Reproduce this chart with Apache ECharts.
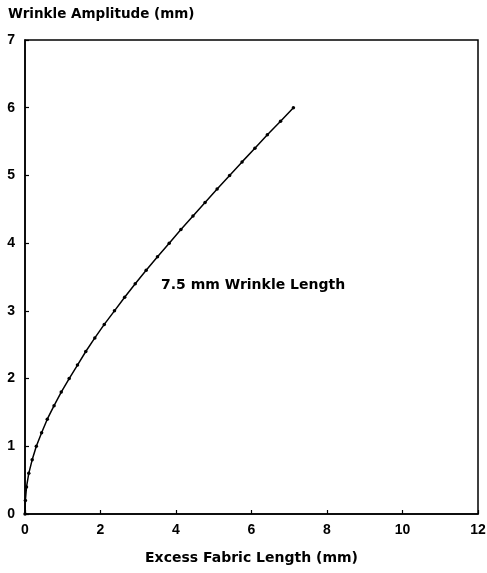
<!DOCTYPE html>
<html>
<head>
<meta charset="utf-8">
<script src="https://cdn.jsdelivr.net/npm/echarts@6/dist/echarts.min.js"></script>
<style>
html,body{margin:0;padding:0;background:#fff;}
#chart{width:487px;height:573px;}
</style>
</head>
<body>
<div id="chart"></div>
<script>
// Wrinkle amplitude (mm) values
var amplitude = [0, 0.2, 0.4, 0.6, 0.8, 1.0, 1.2, 1.4, 1.6, 1.8, 2.0, 2.2, 2.4, 2.6, 2.8, 3.0,
  3.2, 3.4, 3.6, 3.8, 4.0, 4.2, 4.4, 4.6, 4.8, 5.0, 5.2, 5.4, 5.6, 5.8, 6.0];
// Excess fabric length (mm)
var excessLength = [0, 0.01, 0.04, 0.10, 0.19, 0.30, 0.44, 0.59, 0.77, 0.96, 1.17, 1.39, 1.61, 1.85, 2.10, 2.37,
  2.64, 2.92, 3.21, 3.51, 3.82, 4.13, 4.45, 4.77, 5.09, 5.42, 5.75, 6.09, 6.42, 6.77, 7.11];
var xTicks = [0, 2, 4, 6, 8, 10, 12];
var yTicks = [0, 1, 2, 3, 4, 5, 6, 7];
var seriesLabel = '7.5 mm Wrinkle Length';
var xTitle = 'Excess Fabric Length (mm)';
var yTitle = 'Wrinkle Amplitude (mm)';

var data = excessLength.map(function (x, i) { return [x, amplitude[i]]; });
var font = 'DejaVu Sans';
var tickFont = 'Liberation Sans';
var chart = echarts.init(document.getElementById('chart'));
chart.setOption({
  animation: false,
  backgroundColor: '#fff',
  grid: { left: 25, right: 9, top: 40, bottom: 59, show: true, borderColor: '#000', borderWidth: 1.5,
    containLabel: false, outerBoundsMode: 'none' },
  xAxis: {
    type: 'value', min: xTicks[0], max: xTicks[xTicks.length - 1], interval: 2,
    axisLine: { show: true, lineStyle: { color: '#000', width: 1.5 } },
    axisTick: { show: true, inside: true, length: 4, lineStyle: { color: '#000', width: 1.2 } },
    axisLabel: { color: '#000', fontFamily: tickFont, fontWeight: 'bold', fontSize: 14, margin: 9 },
    splitLine: { show: false },
    name: xTitle, nameLocation: 'middle', nameGap: 37,
    nameTextStyle: { color: '#000', fontFamily: font, fontSize: 14, fontWeight: 'bold' }
  },
  yAxis: {
    type: 'value', min: yTicks[0], max: yTicks[yTicks.length - 1], interval: 1,
    axisLine: { show: true, lineStyle: { color: '#000', width: 1.5 } },
    axisTick: { show: true, inside: true, length: 4, lineStyle: { color: '#000', width: 1.2 } },
    axisLabel: { color: '#000', fontFamily: tickFont, fontWeight: 'bold', fontSize: 14, margin: 10 },
    splitLine: { show: false },
    name: yTitle, nameLocation: 'end', nameGap: 19,
    nameTextStyle: { color: '#000', fontFamily: font, fontSize: 13.5, fontWeight: 'bold', align: 'left', padding: [0, 0, 0, -17] }
  },
  series: [{
    type: 'line',
    data: data,
    smooth: false,
    showSymbol: true,
    symbol: 'circle',
    symbolSize: 3.5,
    itemStyle: { color: '#000' },
    lineStyle: { color: '#000', width: 1.5 }
  }],
  graphic: [{
    type: 'text', left: 161, top: 278,
    style: { text: seriesLabel, fill: '#000', font: 'bold 14px "DejaVu Sans"' }
  }]
});
</script>
</body>
</html>
